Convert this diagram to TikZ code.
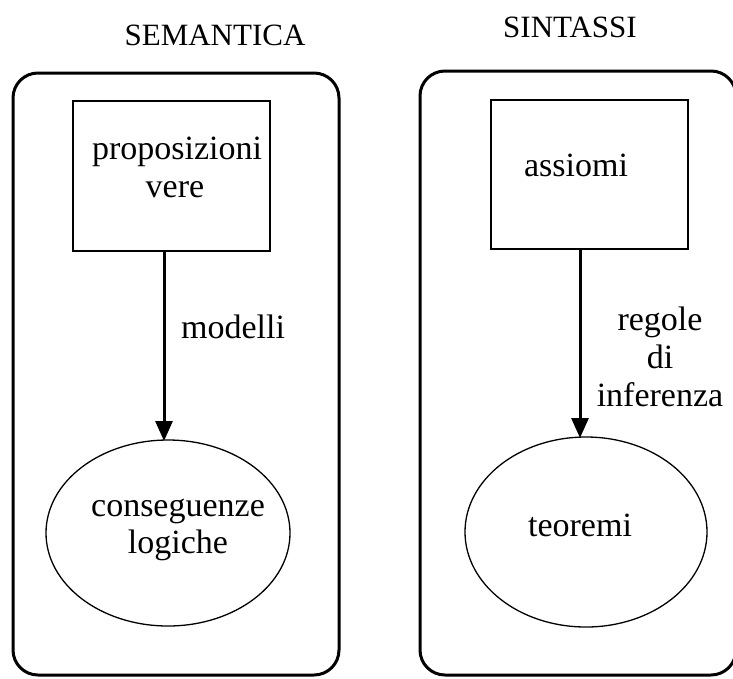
\documentclass[tikz,border=0pt]{standalone}
\usepackage{fontspec}
\setmainfont{Liberation Serif}
\usetikzlibrary{shapes.geometric,arrows.meta}
\begin{document}
\begin{tikzpicture}[x=1pt,y=-1pt,
  panel/.style={draw,line width=3pt,rounded corners=25pt,inner sep=0pt},
  boxnode/.style={draw,line width=1.3pt,rectangle,inner sep=0pt},
  ellnode/.style={draw,line width=1.3pt,ellipse,inner sep=0pt},
  lbl/.style={anchor=base,inner sep=0pt,font=\fontsize{34}{39}\selectfont},
  ttl/.style={anchor=base,inner sep=0pt,font=\fontsize{31}{36}\selectfont},
  arr/.style={line width=3pt,-{Triangle[width=17pt,length=20pt]}}]
\useasboundingbox (0,0) rectangle (733,678);
% titles
\node[ttl] (t1) at (215,45) {SEMANTICA};
\node[ttl] (t2) at (570,37) {SINTASSI};
% panels
\node[panel,minimum width=326pt,minimum height=602pt] (p1) at (176,374) {};
\node[panel,minimum width=316pt,minimum height=604pt] (p2) at (578,373) {};
% left side
\node[boxnode,minimum width=197pt,minimum height=150pt] (pv) at (171.5,176) {};
\node[lbl] (pv1) at (177,159) {proposizioni};
\node[lbl] (pv2) at (175,197) {vere};
\node[ellnode,minimum width=244pt,minimum height=186pt] (cl) at (168,533) {};
\node[lbl] (cl1) at (178,516) {conseguenze};
\node[lbl] (cl2) at (178,553) {logiche};
\coordinate (a1) at (164,441);
\draw[arr] (pv.south -| a1) -- (a1);
\node[lbl] (m1) at (233,338) {modelli};
% right side
\node[boxnode,minimum width=197pt,minimum height=149pt] (as) at (589.5,174.5) {};
\node[lbl] (as1) at (576,176) {assiomi};
\node[ellnode,minimum width=242pt,minimum height=190pt] (te) at (586,532) {};
\node[lbl] (te1) at (580,536) {teoremi};
\coordinate (a2) at (580,438);
\draw[arr] (as.south -| a2) -- (a2);
\node[lbl] (r1) at (660,330) {regole};
\node[lbl] (r2) at (660,368) {di};
\node[lbl] (r3) at (660,406) {inferenza};
\end{tikzpicture}
\end{document}
